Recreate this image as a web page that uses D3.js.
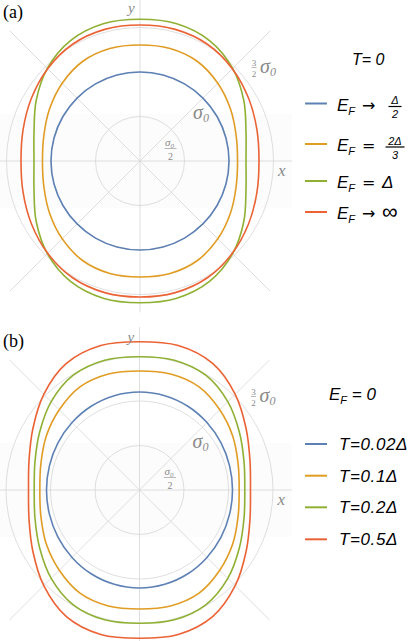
<!DOCTYPE html>
<html>
<head>
<meta charset="utf-8">
<script src="https://cdn.jsdelivr.net/npm/d3@7"></script>
<style>
  body { margin: 0; background: #fff; }
  text { font-family: "Liberation Sans", Arial, sans-serif; }
  text.serif, .serif text { font-family: "Liberation Serif", "DejaVu Serif", serif; }
</style>
</head>
<body>
<div id="chart"></div>
<script>
// polar angles (degrees) of the first quadrant; the curves are mirror-symmetric
const angles = [0, 15, 30, 45, 60, 75, 90];

// panel (a), T = 0 : radius in units of sigma_0
const efHalfDelta = [1.000, 1.000, 1.000, 1.000, 1.000, 1.000, 1.000];
const efTwoThirds = [1.096, 1.118, 1.173, 1.236, 1.291, 1.308, 1.303];
const efDelta = [1.191, 1.233, 1.348, 1.472, 1.562, 1.596, 1.592];
const efInfinity = [1.337, 1.360, 1.409, 1.467, 1.515, 1.531, 1.528];

// panel (b), E_F = 0
const t002 = [1.045, 1.048, 1.058, 1.072, 1.087, 1.097, 1.101];
const t01 = [1.120, 1.147, 1.210, 1.275, 1.338, 1.349, 1.337];
const t02 = [1.183, 1.216, 1.296, 1.403, 1.489, 1.510, 1.498];
const t05 = [1.247, 1.285, 1.383, 1.521, 1.643, 1.681, 1.666];

const gridRadii = [0.5, 1, 1.5];
const spokeAngles = [0, 45, 90, 135, 180, 225, 270, 315];
const legendA = [
  { op: '→', num: 'Δ', den: '2' },
  { op: '=', num: '2Δ', den: '3' },
  { op: '=', val: 'Δ' },
  { op: '→', val: '∞' },
];
const legendB = ['T=0.02Δ', 'T=0.1Δ', 'T=0.2Δ', 'T=0.5Δ'];
const colors = ['#5e81b5', '#e19c24', '#8fb032', '#eb6235'];

const width = 415;
const height = 641;
const sigma0 = 89; // px per sigma_0
const r = d3.scaleLinear().domain([0, 1]).range([0, sigma0]);
const gridColor = '#d6d6d6';
const labelColor = '#8a8a8a';

const svg = d3.select('#chart')
  .append('svg')
  .attr('width', width)
  .attr('height', height);

// mirror the first-quadrant samples into a full turn
function fullTurn(vals) {
  const pts = [];
  const n = angles.length;
  for (let i = 0; i < n; i += 1) pts.push([angles[i], vals[i]]);
  for (let i = n - 2; i >= 0; i -= 1) pts.push([180 - angles[i], vals[i]]);
  for (let i = 1; i < n; i += 1) pts.push([180 + angles[i], vals[i]]);
  for (let i = n - 2; i >= 1; i -= 1) pts.push([360 - angles[i], vals[i]]);
  return pts;
}

const radial = d3.lineRadial()
  .angle((d) => ((90 - d[0]) * Math.PI) / 180)
  .radius((d) => r(d[1]))
  .curve(d3.curveCatmullRomClosed.alpha(0.5));

function drawPanel(cx, cy, tag, series) {
  const g = svg.append('g').attr('transform', `translate(${cx},${cy})`);

  // faint band behind the plot
  g.append('rect')
    .attr('x', -cx).attr('y', -r(0.53))
    .attr('width', cx + r(1.71)).attr('height', r(1.06))
    .attr('fill', '#fcfcfc');

  // spokes
  g.selectAll('.spoke')
    .data(spokeAngles)
    .enter()
    .append('line')
    .attr('class', 'spoke')
    .attr('x1', 0).attr('y1', 0)
    .attr('x2', (a) => {
      const len = a % 90 === 0 ? r(1.71) : r(2.07);
      return Math.cos((a * Math.PI) / 180) * len;
    })
    .attr('y2', (a) => {
      let len = a % 90 === 0 ? r(1.7) : r(2.07);
      if (a === 90) len = r(1.83);
      return -Math.sin((a * Math.PI) / 180) * len;
    })
    .attr('stroke', gridColor)
    .attr('stroke-width', 0.8);

  // grid circles
  g.selectAll('.ring')
    .data(gridRadii)
    .enter()
    .append('circle')
    .attr('class', 'ring')
    .attr('r', (d) => r(d))
    .attr('fill', 'none')
    .attr('stroke', gridColor)
    .attr('stroke-width', 0.8);

  // curves
  g.selectAll('.curve')
    .data(series)
    .enter()
    .append('path')
    .attr('class', 'curve')
    .attr('d', (d) => radial(fullTurn(d)))
    .attr('fill', 'none')
    .attr('stroke', (d, i) => colors[i])
    .attr('stroke-width', 1.6);

  // ring labels
  const lab = g.append('g').attr('class', 'serif').attr('fill', labelColor);
  // sigma0 / 2
  const hx = 30.5;
  lab.append('text').attr('x', hx - 1).attr('y', -15.5).attr('text-anchor', 'middle')
    .style('font-size', '11px').style('font-style', 'italic')
    .text('σ')
    .append('tspan').attr('font-size', '7px').attr('dy', 2).text('0');
  lab.append('line').attr('x1', hx - 6).attr('x2', hx + 6).attr('y1', -12.5).attr('y2', -12.5)
    .attr('stroke', labelColor).attr('stroke-width', 0.6);
  lab.append('text').attr('x', hx).attr('y', -1.5).attr('text-anchor', 'middle')
    .style('font-size', '10px')
    .text('2');
  // sigma0
  const s1 = lab.append('text').attr('x', 53).attr('y', -42)
    .style('font-size', '20px').style('font-style', 'italic').text('σ');
  s1.append('tspan').attr('font-size', '12px').attr('dy', 3).text('0');
  // 3/2 sigma0
  lab.append('text').attr('x', 114).attr('y', -95.5).attr('text-anchor', 'middle')
    .style('font-size', '9px').text('3');
  lab.append('line').attr('x1', 111.5).attr('x2', 116.5).attr('y1', -93.5).attr('y2', -93.5)
    .attr('stroke', labelColor).attr('stroke-width', 0.6);
  lab.append('text').attr('x', 114).attr('y', -84.5).attr('text-anchor', 'middle')
    .style('font-size', '9px').text('2');
  const s3 = lab.append('text').attr('x', 120).attr('y', -88)
    .style('font-size', '20px').style('font-style', 'italic').text('σ');
  s3.append('tspan').attr('font-size', '12px').attr('dy', 3).text('0');

  // axis names
  lab.append('text').attr('x', 138).attr('y', 15)
    .style('font-size', '17px').style('font-style', 'italic').text('x');
  lab.append('text').attr('x', -12).attr('y', -148)
    .style('font-size', '15px').style('font-style', 'italic').text('y');

  // panel tag
  svg.append('text').attr('class', 'serif')
    .attr('x', 3).attr('y', cy - 143)
    .attr('fill', '#000')
    .style('font-size', '18px')
    .text(tag);
}

drawPanel(140, 161, '(a)', [efHalfDelta, efTwoThirds, efDelta, efInfinity]);
drawPanel(139.5, 490, '(b)', [t002, t01, t02, t05]);

// legends
const lineX1 = 305;
const lineX2 = 327;

// panel (a)
svg.append('text').attr('x', 352).attr('y', 65)
  .style('font-size', '16px').style('font-style', 'italic')
  .text('T= 0');

const rowsA = [103.5, 144, 181, 212];
legendA.forEach((item, i) => {
  const y = rowsA[i];
  svg.append('line').attr('x1', lineX1).attr('x2', lineX2).attr('y1', y).attr('y2', y)
    .attr('stroke', colors[i]).attr('stroke-width', 2);
  const t = svg.append('text').attr('x', 337).attr('y', y + 7)
    .style('font-size', '17px').style('font-style', 'italic');
  t.append('tspan').text('E');
  t.append('tspan').attr('font-size', '11px').attr('dy', 4).text('F');
  svg.append('text').attr('x', 362).attr('y', y + 7)
    .style('font-family', '"DejaVu Sans", sans-serif')
    .style('font-size', '16px')
    .text(item.op);
  if (item.val) {
    svg.append('text').attr('x', 382).attr('y', y + 7)
      .style('font-size', item.val === '∞' ? '22px' : '17px')
      .style('font-style', item.val === '∞' ? 'normal' : 'italic')
      .text(item.val);
  } else {
    const w = item.num.length > 1 ? 19 : 13;
    const fx = 395;
    svg.append('text').attr('x', fx).attr('y', y + 0.5).attr('text-anchor', 'middle')
      .style('font-size', '11px').style('font-style', 'italic').text(item.num);
    svg.append('line').attr('x1', fx - w / 2).attr('x2', fx + w / 2)
      .attr('y1', y + 3).attr('y2', y + 3)
      .attr('stroke', '#000').attr('stroke-width', 1.2);
    svg.append('text').attr('x', fx).attr('y', y + 14.5).attr('text-anchor', 'middle')
      .style('font-size', '11px').style('font-style', 'italic').text(item.den);
  }
});

// panel (b)
const tb = svg.append('text').attr('x', 329).attr('y', 400)
  .style('font-size', '17px').style('font-style', 'italic');
tb.append('tspan').text('E');
tb.append('tspan').attr('font-size', '11px').attr('dy', 4).text('F');
tb.append('tspan').attr('dy', -4).text(' = 0');

const rowsB = [444, 475.7, 507.3, 539.3];
legendB.forEach((label, i) => {
  const y = rowsB[i];
  svg.append('line').attr('x1', lineX1).attr('x2', lineX2).attr('y1', y).attr('y2', y)
    .attr('stroke', colors[i]).attr('stroke-width', 2);
  svg.append('text').attr('x', 339).attr('y', y + 6)
    .style('font-size', '17px').style('font-style', 'italic')
    .style('letter-spacing', '0.6px')
    .text(label);
});
</script>
</body>
</html>
